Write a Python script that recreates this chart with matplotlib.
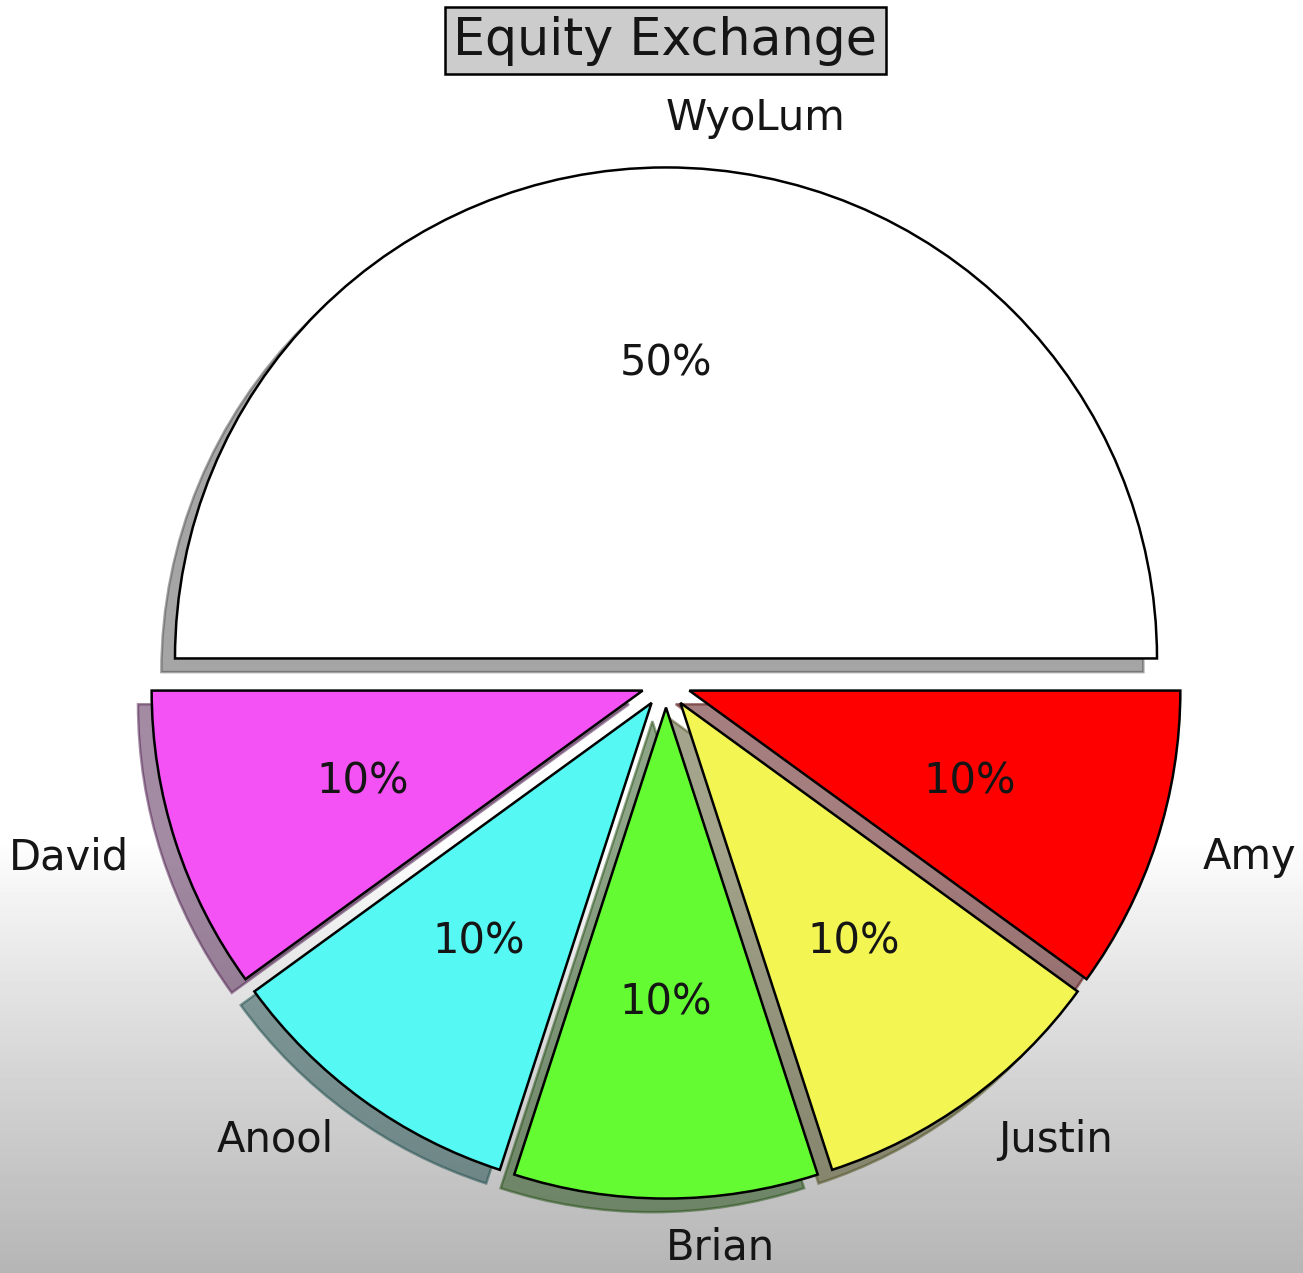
import numpy as np
import matplotlib
matplotlib.use("Agg")
import matplotlib.pyplot as plt

labels = ["WyoLum", "David", "Anool", "Brian", "Justin", "Amy"]
shares = [50, 10, 10, 10, 10, 10]
colors = ["#ffffff", "#f552f5", "#55f8f2", "#64fb32", "#f2f552", "#ff0000"]
explode = [0.05, 0.05, 0.05, 0.05, 0.05, 0.05]
title = "Equity Exchange"

fig = plt.figure(figsize=(13.03, 12.73), dpi=100)
fig.patch.set_facecolor("white")

# background gradient (white top, gray bottom)
bg = fig.add_axes([0, 0, 1, 1], zorder=-5)
H = 1273
rows = np.arange(H)
start = 840
t = np.clip((rows - start) / (H - start), 0, 1)
g = 1.0 - 0.29 * t ** 0.9
img = np.repeat(g[:, None], 4, axis=1)
bg.imshow(img, cmap="gray", vmin=0, vmax=1, aspect="auto", extent=[0, 1, 0, 1], origin="upper")
bg.axis("off")

ax = fig.add_axes([0, 0, 1, 1])
ax.patch.set_alpha(0)
wedges, texts, autotexts = ax.pie(
    shares, labels=labels, colors=colors, explode=explode, startangle=0,
    autopct="%1.0f%%", shadow=True,
    wedgeprops=dict(edgecolor="black", linewidth=1.8),
    textprops=dict(fontsize=30, color="#151515"),
)
texts[0].set_horizontalalignment("left")
ax.set_aspect("auto")
ax.set_xlim(-666 / 491, (1303 - 666) / 491)
ax.set_ylim(-(1273 - 683) / 491, 683 / 491)
ax.axis("off")

fig.text(0.5105, 0.968, title, ha="center", va="center", fontsize=36.5, color="#151515",
         bbox=dict(boxstyle="square,pad=0.17", facecolor="#cccccc", edgecolor="black", linewidth=1.8))

fig.savefig("out.png", dpi=100)
